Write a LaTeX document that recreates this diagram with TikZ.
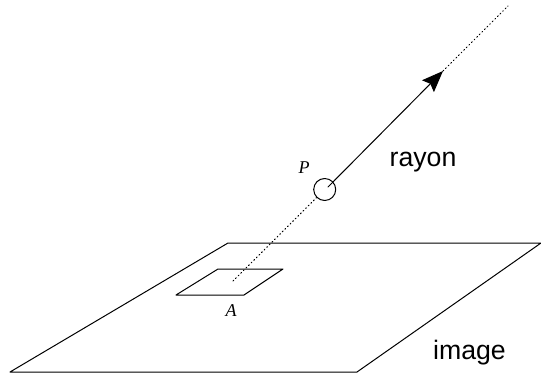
\documentclass[tikz,border=0pt]{standalone}
\usepackage{fontspec}
\setmainfont{Liberation Serif}
\newfontfamily\labelfont{Liberation Sans}
\usetikzlibrary{arrows.meta}
\tikzset{
	px/.style={x=0.75pt,y=-0.75pt},
	hole/.style={draw,circle,inner sep=0pt,minimum size=16.5pt},
	ptlabel/.style={font=\fontsize{13.5}{13.5}\selectfont\itshape,inner sep=0pt},
	bigtext/.style={font=\labelfont\fontsize{20}{20}\selectfont,inner sep=0pt}
}
\begin{document}
\begin{tikzpicture}[px,>={Stealth[length=16pt,width=12.5pt,inset=2.5pt]},line join=round,line cap=round,line width=0.75pt]
	\useasboundingbox (0,0) rectangle (541,374);
	% image plane
	\coordinate (p1) at (228,243);
	\coordinate (p2) at (541,243);
	\coordinate (p3) at (357,372);
	\coordinate (p4) at (10,372);
	\draw (p1)--(p2)--(p3)--(p4)--cycle;
	% pixel
	\coordinate (a1) at (218,269);
	\coordinate (a2) at (283,269);
	\coordinate (a3) at (244,295);
	\coordinate (a4) at (176,295);
	\draw (a1)--(a2)--(a3)--(a4)--cycle;
	\node[ptlabel] (A) at (231,311) {A};
	% ray
	\node[hole] (P) at (324.7,189.5) {};
	\node[ptlabel] (Plab) at (304,168) {P};
	\coordinate (start) at (233,281);
	\coordinate (inner) at (328,187);
	\coordinate (tip) at (443,71);
	\coordinate (far) at (508,6);
	\draw[dotted] (start)--(P);
	\draw[->] (inner)--(tip);
	\draw[dotted] (tip)--(far);
	\node[bigtext] (rayon) at (423,162.5) {rayon};
	\node[bigtext] (image) at (469.5,352.5) {image};
\end{tikzpicture}
\end{document}
